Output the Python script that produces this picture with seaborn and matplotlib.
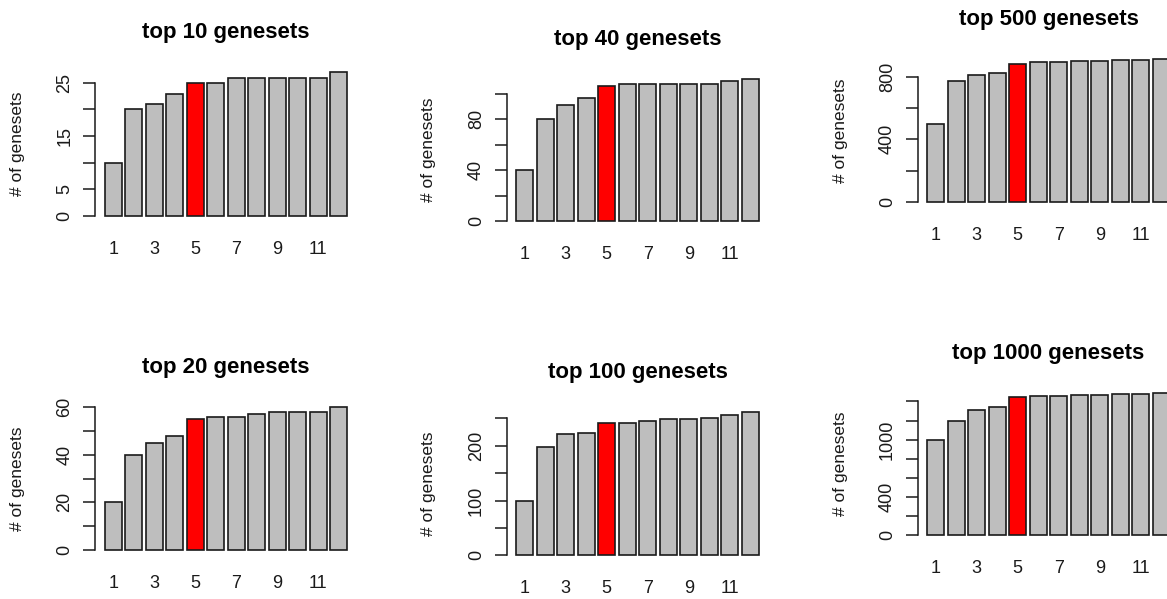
import matplotlib
matplotlib.use("Agg")
import matplotlib.pyplot as plt
import seaborn as sns
import pandas as pd

# ---- data ----
ranks = [1, 2, 3, 4, 5, 6, 7, 8, 9, 10, 11, 12]
rank_labels = ["1", "3", "5", "7", "9", "11"]
highlight_rank = 5

top10 = [10, 20, 21, 23, 25, 25, 26, 26, 26, 26, 26, 27]
top40 = [40, 80, 91, 97, 106, 108, 108, 108, 108, 108, 110, 112]
top500 = [500, 777, 811, 826, 884, 894, 898, 902, 905, 907, 909, 912]
top20 = [20, 40, 45, 48, 55, 56, 56, 57, 58, 58, 58, 60]
top100 = [100, 198, 221, 224, 242, 242, 245, 248, 249, 251, 256, 261]
top1000 = [1000, 1195, 1307, 1338, 1446, 1456, 1460, 1463, 1470, 1474, 1481, 1491]

titles = ["top 10 genesets", "top 40 genesets", "top 500 genesets",
          "top 20 genesets", "top 100 genesets", "top 1000 genesets"]

yticks10 = [0, 5, 10, 15, 20, 25]
ylabels10 = ["0", "5", "", "15", "", "25"]
yticks40 = [0, 20, 40, 60, 80, 100]
ylabels40 = ["0", "", "40", "", "80", ""]
yticks500 = [0, 200, 400, 600, 800]
ylabels500 = ["0", "", "400", "", "800"]
yticks20 = [0, 10, 20, 30, 40, 50, 60]
ylabels20 = ["0", "", "20", "", "40", "", "60"]
yticks100 = [0, 50, 100, 150, 200, 250]
ylabels100 = ["0", "", "100", "", "200", ""]
yticks1000 = [0, 200, 400, 600, 800, 1000, 1200, 1400]
ylabels1000 = ["0", "", "400", "", "", "1000", "", ""]

# ---- styling ----
sns.set_theme(style="white")
plt.rcParams["font.family"] = ["Liberation Sans", "DejaVu Sans"]

W, H = 1167, 599
fig = plt.figure(figsize=(W / 100, H / 100), dpi=100)

# plot regions in pixels: (left, right, top, bottom)
regions = [
    (95, 357, 66.6, 221.4),
    (506.5, 768.5, 73.0, 226.7),
    (917.5, 1179.5, 53.8, 207.4),
    (95, 357, 401.3, 555.7),
    (506.5, 768.5, 406.6, 561.0),
    (917.5, 1179.5, 387.0, 541.0),
]

panels = [
    (top10, yticks10, ylabels10),
    (top40, yticks40, ylabels40),
    (top500, yticks500, ylabels500),
    (top20, yticks20, ylabels20),
    (top100, yticks100, ylabels100),
    (top1000, yticks1000, ylabels1000),
]

ink = "#1a1a1a"
bar_w = 1 / 1.2

for (vals, yt, yl), title, (l, r, t, b) in zip(panels, titles, regions):
    ax = fig.add_axes([l / W, 1 - b / H, (r - l) / W, (b - t) / H])
    ax.set_facecolor("none")
    df = pd.DataFrame({"rank": [str(k) for k in ranks], "count": vals})
    colors = ["#FF0000" if k == highlight_rank else "#BEBEBE" for k in ranks]
    sns.barplot(data=df, x="rank", y="count", hue="rank", palette=colors,
                width=bar_w, saturation=1, edgecolor=ink, linewidth=1.2,
                legend=False, ax=ax)
    span = (len(ranks) - 1) + bar_w
    ext = 0.04 * span
    ax.set_xlim(-bar_w / 2 - ext, len(ranks) - 1 + bar_w / 2 + ext)
    vmax = max(vals)
    ax.set_ylim(-0.04 * vmax, 1.04 * vmax)
    for s in ["top", "right", "bottom"]:
        ax.spines[s].set_visible(False)
    ax.spines["left"].set_bounds(0, yt[-1])
    ax.spines["left"].set_color(ink)
    ax.spines["left"].set_linewidth(1.1)
    ax.set_yticks(yt)
    ax.set_yticklabels(yl, rotation=90, va="center", fontsize=13, color=ink)
    ax.set_xticks(list(range(0, len(ranks), 2)))
    ax.set_xticklabels(rank_labels, fontsize=13, color=ink)
    ax.tick_params(axis="x", length=0, pad=14)
    ax.tick_params(axis="y", length=8.6, width=1.1, color=ink, pad=7.0, left=True)
    ax.set_xlabel("")
    ax.set_ylabel("# of genesets", fontsize=12.5, color=ink)
    ax.yaxis.set_label_coords(-70 / (r - l), 0.5)
    ax.set_title(title, fontweight="bold", fontsize=16, pad=20.4, color="black")
    ax.grid(False)

fig.savefig("out.png", dpi=100)
